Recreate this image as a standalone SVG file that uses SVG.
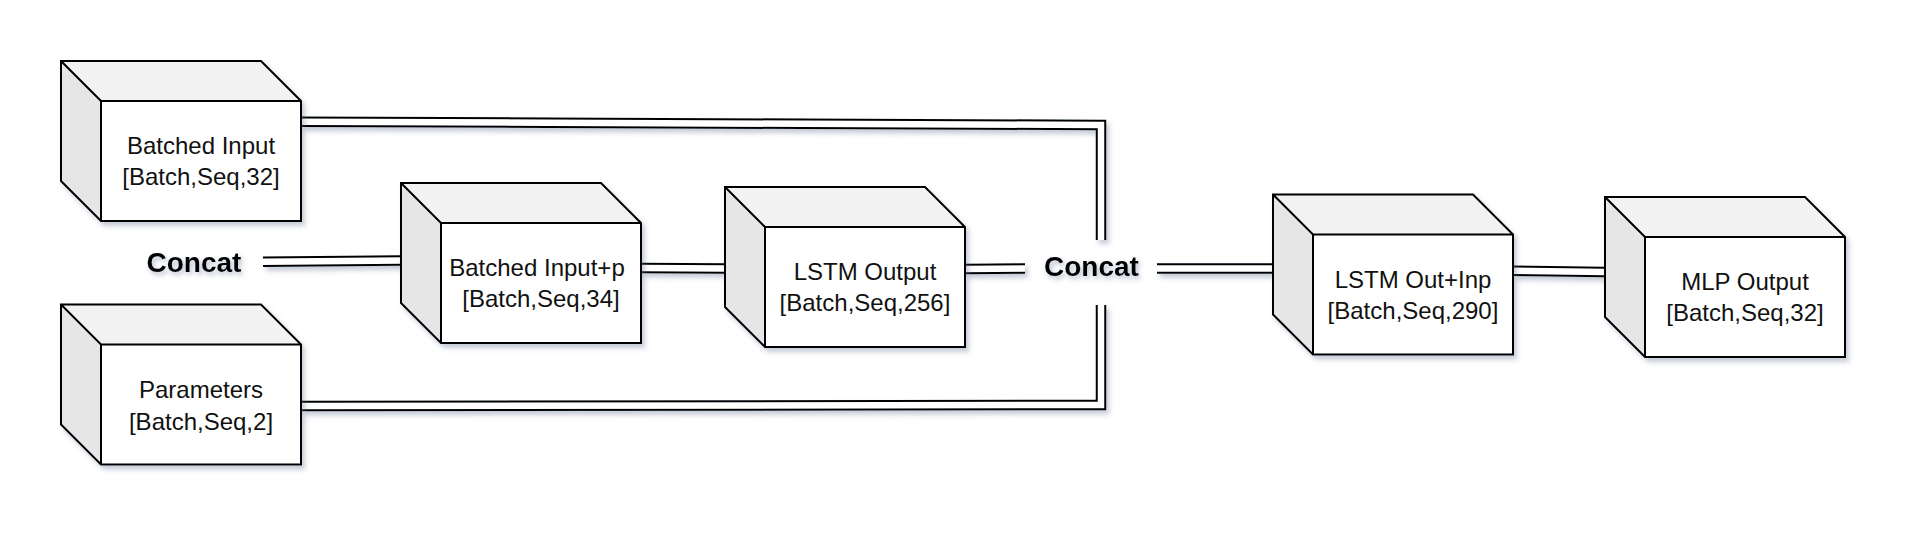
<svg xmlns="http://www.w3.org/2000/svg" xmlns:xlink="http://www.w3.org/1999/xlink" width="1918" height="538" viewBox="0 0 1918 538">
<style>
.lbl{font-family:"Liberation Sans",Arial,sans-serif;font-size:24px;fill:#111;text-anchor:middle}
.cc{font-family:"Liberation Sans",Arial,sans-serif;font-size:28px;font-weight:bold;fill:#000;text-anchor:middle}
.lo{fill:none;stroke:#000;stroke-width:10.5;stroke-linejoin:miter}
.li{fill:none;stroke:#fff;stroke-width:6.5;stroke-linejoin:miter}
</style>
<defs>
<filter id="sh" x="-10%" y="-10%" width="130%" height="130%">
<feDropShadow dx="3" dy="4" stdDeviation="2.5" flood-color="#5a6a8a" flood-opacity="0.35"/>
</filter>
<filter id="tsh" x="-20%" y="-30%" width="140%" height="180%">
<feDropShadow dx="2" dy="3" stdDeviation="2.5" flood-color="#5a6a8a" flood-opacity="0.45"/>
</filter>
<g id="cube">
<path d="M0,0 L200,0 L240,40 L240,160 L40,160 L0,120 Z" fill="#fff"/>
<path d="M0,0 L200,0 L240,40 L40,40 Z" fill="#f2f2f2"/>
<path d="M0,0 L40,40 L40,160 L0,120 Z" fill="#e6e6e6"/>
<path d="M0,0 L200,0 L240,40 L240,160 L40,160 L0,120 Z M0,0 L40,40 L240,40 M40,40 L40,160" fill="none" stroke="#000" stroke-width="2" stroke-linejoin="miter"/>
</g>
</defs>
<rect width="1918" height="538" fill="#fff"/>
<g id="connectors" filter="url(#sh)">
<path class="lo" d="M301,121.7 L1101,125 L1101,240"/>
<path class="li" d="M301,121.7 L1101,125 L1101,240"/>
<path class="lo" d="M301,406 L1101,405 L1101,305"/>
<path class="li" d="M301,406 L1101,405 L1101,305"/>
<path class="lo" d="M263,261.8 L401,260.5"/>
<path class="li" d="M263,261.8 L401,260.5"/>
<path class="lo" d="M641,268 L725,268.5"/>
<path class="li" d="M641,268 L725,268.5"/>
<path class="lo" d="M965,269 L1025,268.6"/>
<path class="li" d="M965,269 L1025,268.6"/>
<path class="lo" d="M1157,268.6 L1273,268.6"/>
<path class="li" d="M1157,268.6 L1273,268.6"/>
<path class="lo" d="M1513,270.7 L1605,272"/>
<path class="li" d="M1513,270.7 L1605,272"/>
</g>
<g id="batched-input">
<use xlink:href="#cube" x="61" y="61" filter="url(#sh)"/>
<text class="lbl" x="201" y="154">Batched Input</text>
<text class="lbl" x="201" y="185">[Batch,Seq,32]</text>
</g>
<g id="parameters">
<use xlink:href="#cube" x="61" y="304.5" filter="url(#sh)"/>
<text class="lbl" x="201" y="398">Parameters</text>
<text class="lbl" x="201" y="429.5">[Batch,Seq,2]</text>
</g>
<g id="concat-1">
<text class="cc" x="194" y="272" filter="url(#tsh)">Concat</text>
</g>
<g id="batched-input-p">
<use xlink:href="#cube" x="401" y="183" filter="url(#sh)"/>
<text class="lbl" x="537" y="276">Batched Input+p</text>
<text class="lbl" x="541" y="307">[Batch,Seq,34]</text>
</g>
<g id="lstm-output">
<use xlink:href="#cube" x="725" y="187" filter="url(#sh)"/>
<text class="lbl" x="865" y="280">LSTM Output</text>
<text class="lbl" x="865" y="311">[Batch,Seq,256]</text>
</g>
<g id="concat-2">
<text class="cc" x="1091.5" y="275.5" filter="url(#tsh)">Concat</text>
</g>
<g id="lstm-out-inp">
<use xlink:href="#cube" x="1273" y="194.5" filter="url(#sh)"/>
<text class="lbl" x="1413" y="288">LSTM Out+Inp</text>
<text class="lbl" x="1413" y="319">[Batch,Seq,290]</text>
</g>
<g id="mlp-output">
<use xlink:href="#cube" x="1605" y="197" filter="url(#sh)"/>
<text class="lbl" x="1745" y="290">MLP Output</text>
<text class="lbl" x="1745" y="321">[Batch,Seq,32]</text>
</g>
</svg>
